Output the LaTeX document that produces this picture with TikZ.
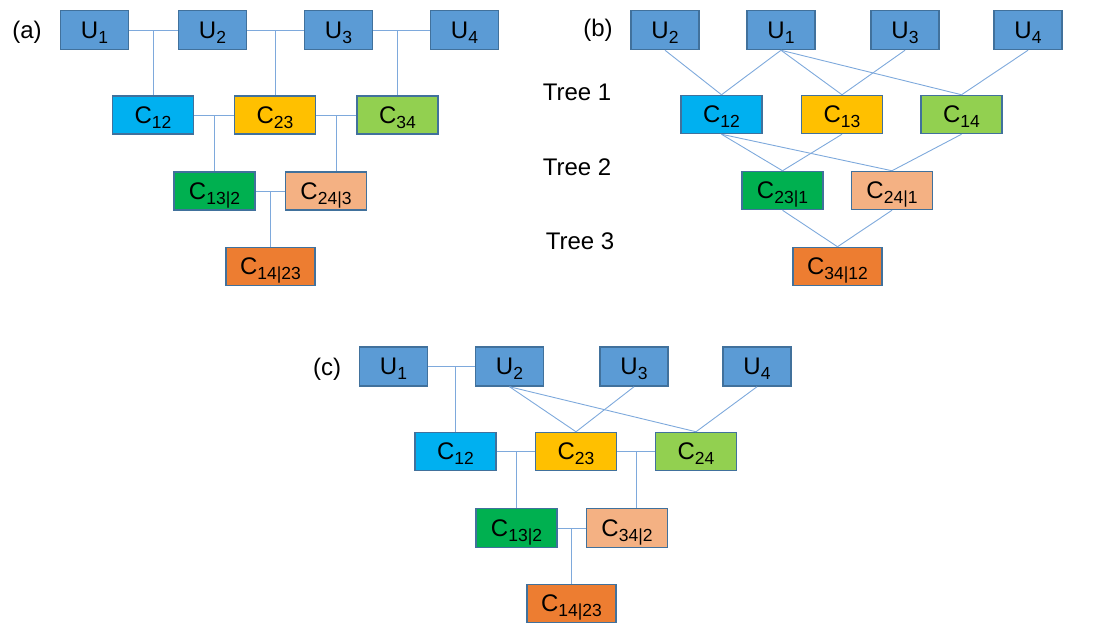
\documentclass[tikz,border=0pt]{standalone}
\usepackage{fontspec}
\setmainfont{Liberation Sans}
\usetikzlibrary{calc}
\definecolor{ublue}{HTML}{5B9BD5}
\definecolor{bord}{HTML}{41719C}
\definecolor{conn}{HTML}{7EA9DC}
\definecolor{cyanbox}{HTML}{00B0F0}
\definecolor{goldbox}{HTML}{FFC000}
\definecolor{limebox}{HTML}{92D050}
\definecolor{greenbox}{HTML}{00B050}
\definecolor{peachbox}{HTML}{F4B183}
\definecolor{orangebox}{HTML}{ED7D31}
\newcommand{\mysub}[1]{\raisebox{-5pt}[0pt][0pt]{\fontsize{17.5}{17.5}\selectfont #1}}
\tikzset{
  boxbase/.style={draw=bord, line width=1.5pt, inner sep=0pt, font=\fontsize{24}{24}\selectfont},
  ubox/.style={boxbase, fill=ublue, minimum width=68pt, minimum height=39pt},
  cbox/.style={boxbase, minimum width=81pt, minimum height=38pt},
  wbox/.style={boxbase, minimum width=89pt, minimum height=38pt},
  lab/.style={font=\fontsize{24}{24}\selectfont, inner sep=0pt},
  link/.style={draw=conn, line width=0.9pt}
}
\begin{document}
\begin{tikzpicture}[x=1pt,y=-1pt]
\useasboundingbox (0,0) rectangle (1101,624);
% ---------- panel (a)
\node[lab] (la) at (27,32) {(a)};
\node[ubox] (aU1) at (94.5,30) {U\mysub{1}};
\node[ubox] (aU2) at (212.5,30) {U\mysub{2}};
\node[ubox] (aU3) at (338.5,30) {U\mysub{3}};
\node[ubox] (aU4) at (464.5,30) {U\mysub{4}};
\node[cbox,fill=cyanbox] (aC12) at (153,115) {C\mysub{12}};
\node[cbox,fill=goldbox] (aC23) at (275,115) {C\mysub{23}};
\node[cbox,fill=limebox] (aC34) at (397.5,115) {C\mysub{34}};
\node[cbox,fill=greenbox] (aC132) at (214.5,191) {C\mysub{13|2}};
\node[cbox,fill=peachbox] (aC243) at (326,191) {C\mysub{24|3}};
\node[wbox,fill=orangebox] (aC1423) at (270.5,266.5) {C\mysub{14|23}};
\draw[link] (aU1.east) -- (aU2.west);
\draw[link] (aU2.east) -- (aU3.west);
\draw[link] (aU3.east) -- (aU4.west);
\draw[link] (aC12.north |- aU1.east) -- (aC12.north);
\draw[link] (aC23.north |- aU2.east) -- (aC23.north);
\draw[link] (aC34.north |- aU3.east) -- (aC34.north);
\draw[link] (aC12.east) -- (aC23.west);
\draw[link] (aC23.east) -- (aC34.west);
\coordinate (am1) at ($(aC23.east)!0.5!(aC34.west)$);
\draw[link] (aC132.north |- aC12.east) -- (aC132.north);
\draw[link] (am1) -- (am1 |- aC243.north);
\draw[link] (aC132.east) -- (aC243.west);
\draw[link] (aC1423.north |- aC132.east) -- (aC1423.north);
% ---------- panel (b)
\node[lab] (lb) at (598,30) {(b)};
\node[lab] (t1) at (577,92) {Tree 1};
\node[lab] (t2) at (577,167) {Tree 2};
\node[lab] (t3) at (580,241) {Tree 3};
\node[ubox] (bU2) at (665,30) {U\mysub{2}};
\node[ubox] (bU1) at (781,30) {U\mysub{1}};
\node[ubox] (bU3) at (905,30) {U\mysub{3}};
\node[ubox] (bU4) at (1028,30) {U\mysub{4}};
\node[cbox,fill=cyanbox] (bC12) at (721.5,114.5) {C\mysub{12}};
\node[cbox,fill=goldbox] (bC13) at (842,114.5) {C\mysub{13}};
\node[cbox,fill=limebox] (bC14) at (961.5,114.5) {C\mysub{14}};
\node[cbox,fill=greenbox] (bC231) at (782.5,190.5) {C\mysub{23|1}};
\node[cbox,fill=peachbox] (bC241) at (892,190.5) {C\mysub{24|1}};
\node[wbox,fill=orangebox] (bC3412) at (837.5,266.5) {C\mysub{34|12}};
\draw[link] (bU2.south) -- (bC12.north);
\draw[link] (bU1.south) -- (bC12.north);
\draw[link] (bU1.south) -- (bC13.north);
\draw[link] (bU1.south) -- (bC14.north);
\draw[link] (bU3.south) -- (bC13.north);
\draw[link] (bU4.south) -- (bC14.north);
\draw[link] (bC12.south) -- (bC231.north);
\draw[link] (bC12.south) -- (bC241.north);
\draw[link] (bC13.south) -- (bC231.north);
\draw[link] (bC14.south) -- (bC241.north);
\draw[link] (bC231.south) -- (bC3412.north);
\draw[link] (bC241.south) -- (bC3412.north);
% ---------- panel (c)
\node[lab] (lc) at (327,369) {(c)};
\node[ubox] (cU1) at (393.5,366.5) {U\mysub{1}};
\node[ubox] (cU2) at (509.5,366.5) {U\mysub{2}};
\node[ubox] (cU3) at (634,366.5) {U\mysub{3}};
\node[ubox] (cU4) at (757,366.5) {U\mysub{4}};
\node[cbox,fill=cyanbox] (cC12) at (455.5,451.5) {C\mysub{12}};
\node[cbox,fill=goldbox] (cC23) at (576,451.5) {C\mysub{23}};
\node[cbox,fill=limebox] (cC24) at (696,451.5) {C\mysub{24}};
\node[cbox,fill=greenbox,minimum height=39pt] (cC132) at (516.5,528) {C\mysub{13|2}};
\node[cbox,fill=peachbox,minimum height=39pt] (cC342) at (627,528) {C\mysub{34|2}};
\node[wbox,fill=orangebox] (cC1423) at (571.5,603.5) {C\mysub{14|23}};
\draw[link] (cU1.east) -- (cU2.west);
\draw[link] (cC12.north |- cU1.east) -- (cC12.north);
\draw[link] (cU2.south) -- (cC23.north);
\draw[link] (cU2.south) -- (cC24.north);
\draw[link] (cU3.south) -- (cC23.north);
\draw[link] (cU4.south) -- (cC24.north);
\draw[link] (cC12.east) -- (cC23.west);
\draw[link] (cC23.east) -- (cC24.west);
\coordinate (cm1) at ($(cC23.east)!0.5!(cC24.west)$);
\draw[link] (cC132.north |- cC12.east) -- (cC132.north);
\draw[link] (cm1) -- (cm1 |- cC342.north);
\draw[link] (cC132.east) -- (cC342.west);
\draw[link] (cC1423.north |- cC132.east) -- (cC1423.north);
\end{tikzpicture}
\end{document}
